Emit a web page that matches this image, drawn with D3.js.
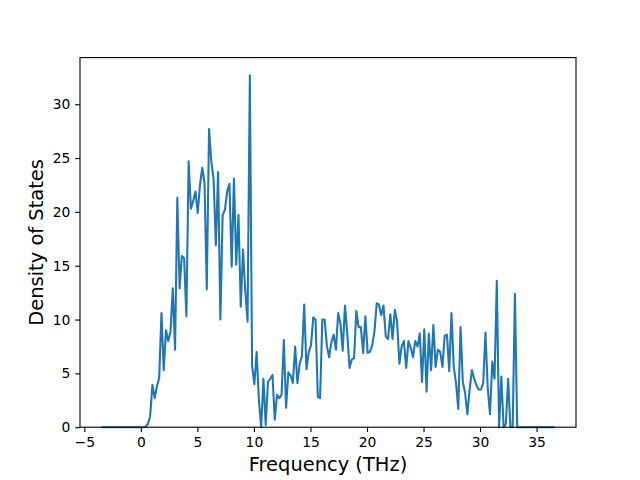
<!DOCTYPE html>
<html><head><meta charset="utf-8">
<script src="https://cdn.jsdelivr.net/npm/d3@7"></script>
<style>body{margin:0;background:#fff}svg{display:block}text{font-family:"DejaVu Sans",sans-serif}</style>
</head><body><svg id="c" width="640" height="480"></svg>
<script>
// Frequency grid (THz): uniform sampling from freqStart with freqStep
const freqStart = -3.39;
const freqStep = 0.2004;
// Density of states values
const dos = [
0,0,0,0,0,0,0,0,0,0,
0,0,0,0,0,0,0,0,0,0.05,
0.3,1.0,3.95,2.7,3.8,4.6,10.6,5.3,9.0,8.0,
8.9,12.9,7.2,21.3,12.9,15.9,15.7,10.3,24.7,20.3,
21.0,21.9,19.9,22.5,24.1,22.7,12.8,27.7,24.7,23.1,
16.9,23.7,10.0,19.7,20.2,21.9,22.6,14.9,23.1,15.1,
19.7,11.2,16.5,12.6,9.8,32.7,5.7,4.0,7.0,2.5,
0,4.5,0.2,4.2,4.5,4.85,0.7,3.0,2.7,3.0,
8.1,1.8,5.1,4.8,4.1,7.5,4.1,5.9,6.6,11.4,
5.4,7.0,7.6,10.2,10.0,2.8,2.7,10.0,10.0,7.6,
6.5,7.9,8.6,7.2,10.6,9.6,7.1,11.3,8.7,5.5,
6.3,6.4,10.8,9.3,9.3,6.9,10.3,6.9,7.0,7.6,
8.9,11.5,11.4,10.4,11.3,8.4,8.2,10.5,8.2,10.9,
9.8,5.9,7.5,8.0,5.5,8.0,7.4,6.5,8.0,7.5,
8.7,4.2,9.1,3.3,8.7,5.3,9.5,5.6,7.2,7.0,
5.6,8.5,8.6,5.2,10.6,5.6,4.1,1.7,9.3,4.2,
3.2,1.2,3.5,5.3,4.5,3.9,3.5,3.5,4.1,8.8,
3.6,1.2,6.1,4.5,13.6,0,4.7,0,0.3,4.5,
0,0,12.4,0,0,0,0,0,0,0,
0,0,0,0,0,0,0,0,0,0
];
const xTicks = [-5,0,5,10,15,20,25,30,35];
const yTicks = [0,5,10,15,20,25,30];
const xLabel = "Frequency (THz)";
const yLabel = "Density of States";

const data = dos.map((v,i)=>({f: freqStart + i*freqStep, d: v}));

const W=640,H=480, L=80, R=576, T=57.6, B=427.2;
const svg = d3.select("#c");
const fx = d3.extent(data, p=>p.f);
const pad = (fx[1]-fx[0])*0.05;
const x = d3.scaleLinear().domain([fx[0]-pad, fx[1]+pad]).range([L,R]);
const ymax = d3.max(data,p=>p.d);
const y = d3.scaleLinear().domain([0, ymax*1.05]).range([B,T]);

const tick = 3.5*100/72, tpad = 3.5*100/72, fs = 10*100/72;

const line = d3.line().x(p=>x(p.f)).y(p=>y(p.d));
svg.append("path").datum(data).attr("d",line)
  .attr("fill","none").attr("stroke","#1f77b4").attr("stroke-width",1.5*100/72)
  .attr("stroke-linejoin","round").attr("stroke-linecap","square");

const xa = svg.append("g").attr("transform",`translate(0,${B})`)
  .call(d3.axisBottom(x).tickValues(xTicks).tickSize(tick).tickPadding(tpad).tickFormat(d3.format("d")));
const ya = svg.append("g").attr("transform",`translate(${L},0)`)
  .call(d3.axisLeft(y).tickValues(yTicks).tickSize(tick).tickPadding(tpad).tickFormat(d3.format("d")));
[xa,ya].forEach(g=>{
  g.select(".domain").remove();
  g.selectAll(".tick line").attr("stroke","#000").attr("stroke-width",0.8*100/72);
  g.selectAll(".tick text").attr("fill","#000").style("font-size",fs+"px").style("font-family","DejaVu Sans");
});

svg.append("rect").attr("x",L).attr("y",T).attr("width",R-L).attr("height",B-T)
  .attr("fill","none").attr("stroke","#000").attr("stroke-width",0.8*100/72);

svg.append("text").attr("x",(L+R)/2).attr("y",471).attr("text-anchor","middle")
  .style("font-size",(14*100/72)+"px").text(xLabel);
svg.append("text").attr("transform",`translate(42.5,${(T+B)/2}) rotate(-90)`).attr("text-anchor","middle")
  .style("font-size",(14*100/72)+"px").text(yLabel);
</script></body></html>
